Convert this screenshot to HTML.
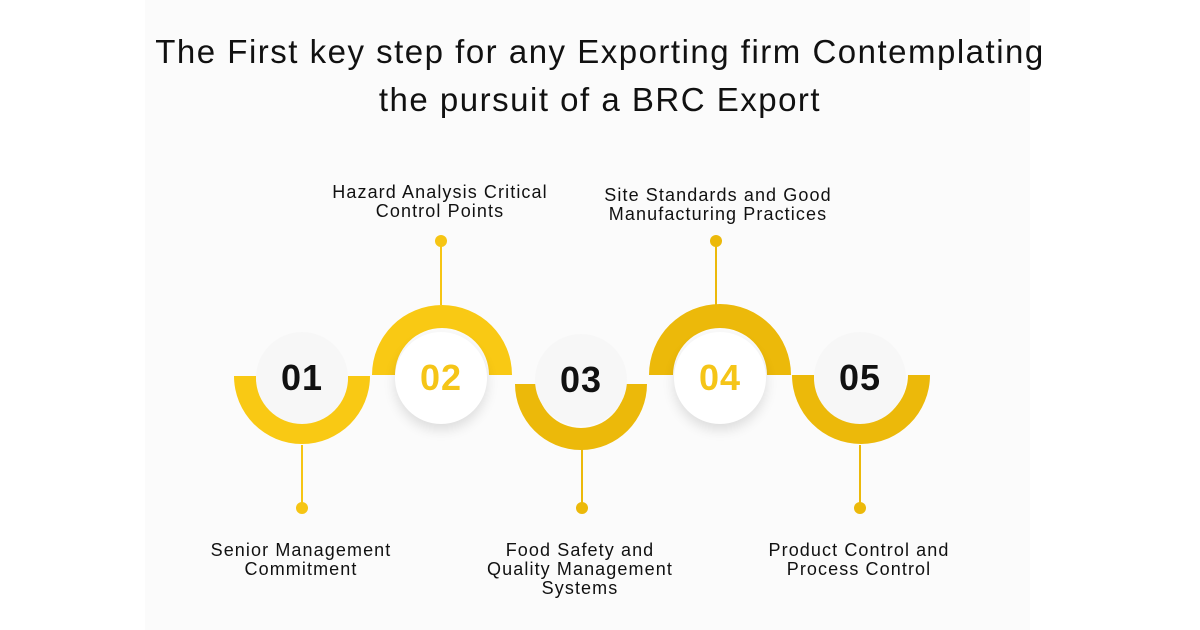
<!DOCTYPE html>
<html><head><meta charset="utf-8"><style>
body{margin:0;width:1200px;height:630px;background:#fff;position:relative;overflow:hidden;font-family:"Liberation Sans",sans-serif}
.panel{position:absolute;left:145px;top:0;width:885px;height:630px;background:#fbfbfb}
h1{position:absolute;left:0;width:1200px;top:28px;margin:0;text-align:center;font-weight:400;font-size:33px;letter-spacing:1.5px;line-height:48px;color:#111}
.t{position:absolute;font-size:18px;letter-spacing:1.1px;line-height:19px;text-align:center;color:#111;width:300px}
.n{position:absolute;width:92px;height:92px;border-radius:50%;background:#f7f7f7;font-weight:700;font-size:36px;line-height:92px;text-align:center;color:#111;letter-spacing:1px}
.sh{background:#fff;box-shadow:0 6px 12px rgba(0,0,0,.12)}
.y{color:#f5c518}
</style></head><body>
<div class="panel"></div>
<h1>The First key step for any Exporting firm Contemplating<br>the pursuit of a BRC Export</h1>
<svg width="1200" height="630" style="position:absolute;left:0;top:0">
<g stroke-width="2">
<line x1="302" y1="445" x2="302" y2="508" stroke="#f6c514"/>
<line x1="441" y1="241" x2="441" y2="305" stroke="#f6c514"/>
<line x1="582" y1="447" x2="582" y2="508" stroke="#ecb90a"/>
<line x1="716" y1="241" x2="716" y2="305" stroke="#ecb90a"/>
<line x1="860" y1="445" x2="860" y2="508" stroke="#ecb90a"/>
</g>
<circle cx="302" cy="508" r="6" fill="#f6c514"/>
<circle cx="441" cy="241" r="6" fill="#f6c514"/>
<circle cx="582" cy="508" r="6" fill="#ecb90a"/>
<circle cx="716" cy="241" r="6" fill="#ecb90a"/>
<circle cx="860" cy="508" r="6" fill="#ecb90a"/>
<path d="M234 376 A68 68 0 0 0 370 376 L348 376 A46 46 0 0 1 256 376 Z" fill="#f9c914"/>
<path d="M372 375 A70 70 0 0 1 512 375 L489 375 A47 47 0 0 0 395 375 Z" fill="#f9c914"/>
<path d="M515 384 A66 66 0 0 0 647 384 L625 384 A44 44 0 0 1 537 384 Z" fill="#ecb90a"/>
<path d="M649 375 A71 71 0 0 1 791 375 L767 375 A47 47 0 0 0 673 375 Z" fill="#ecb90a"/>
<path d="M792 375 A69 69 0 0 0 930 375 L908 375 A47 47 0 0 1 814 375 Z" fill="#ecb90a"/>
</svg>
<div class="n" style="left:256px;top:332px">01</div>
<div class="n sh y" style="left:395px;top:332px">02</div>
<div class="n" style="left:535px;top:334px">03</div>
<div class="n sh y" style="left:674px;top:332px">04</div>
<div class="n" style="left:814px;top:332px">05</div>
<div class="t" style="left:290px;top:183px">Hazard Analysis Critical<br>Control Points</div>
<div class="t" style="left:568px;top:186px">Site Standards and Good<br>Manufacturing Practices</div>
<div class="t" style="left:151px;top:541px">Senior Management<br>Commitment</div>
<div class="t" style="left:430px;top:541px">Food Safety and<br>Quality Management<br>Systems</div>
<div class="t" style="left:709px;top:541px">Product Control and<br>Process Control</div>
</body></html>
